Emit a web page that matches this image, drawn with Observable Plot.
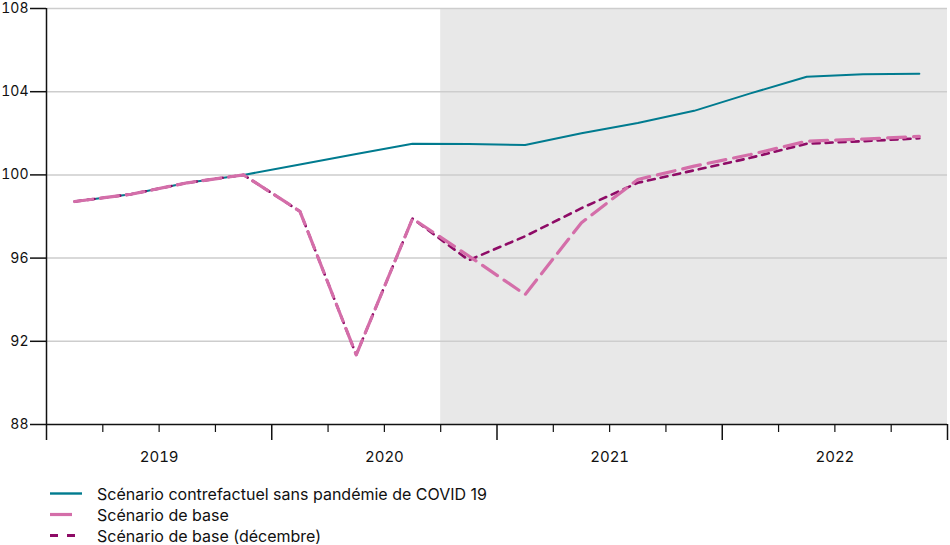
<!DOCTYPE html>
<html>
<head>
<meta charset="utf-8">
<script src="https://cdn.jsdelivr.net/npm/d3@7"></script>
<script src="https://cdn.jsdelivr.net/npm/@observablehq/plot@0.6"></script>
<style>
  html, body { margin: 0; padding: 0; background: #fff; }
  body { width: 950px; height: 545px; position: relative; font-family: Inter, "Liberation Sans", Arial, sans-serif; }
  #chart svg { display: block; }
  #legend { position: absolute; left: 50px; top: 483px; font-size: 16px; color: #111; }
  .row { display: flex; align-items: center; height: 21px; }
  .row svg { width: 47px; height: 21px; display: block; }
</style>
</head>
<body>
<div id="chart"></div>
<div id="legend"></div>
<script>
// ---- Data ----
const quarters = ["2019T1","2019T2","2019T3","2019T4","2020T1","2020T2","2020T3","2020T4",
                  "2021T1","2021T2","2021T3","2021T4","2022T1","2022T2","2022T3","2022T4"];
const counterfactual = [98.72, 99.07, 99.62, 100.0, 100.5, 101.0, 101.5, 101.48,
                        101.44, 102.0, 102.5, 103.08, 103.92, 104.72, 104.84, 104.86];
const base = [98.72, 99.07, 99.62, 100.0, 98.25, 91.35, 97.9, 96.1,
              94.25, 97.7, 99.78, 100.42, 100.98, 101.62, 101.72, 101.85];
const baseDec = [98.72, 99.07, 99.62, 100.0, 98.25, 91.35, 97.9, 95.9,
                 97.05, 98.4, 99.62, 100.22, 100.82, 101.5, 101.62, 101.76];
const years = ["2019","2020","2021","2022"];
const yTicks = [88, 92, 96, 100, 104, 108];
const forecastStart = "2020T4";
const seriesNames = ["Scénario contrefactuel sans pandémie de COVID 19", "Scénario de base", "Scénario de base (décembre)"];

// ---- Helpers ----
const qStart = q => +q.slice(0, 4) + (+q.slice(5) - 1) / 4;   // start of the quarter
const qMid = q => qStart(q) + 0.125;                             // centre of the quarter
const firstYear = +years[0], lastYear = +years[years.length - 1] + 1;
const majorTicks = d3.range(firstYear, lastYear + 1);
const minorTicks = d3.range(firstYear * 4, lastYear * 4 + 1).map(d => d / 4).filter(d => !Number.isInteger(d));
const yearMids = years.map(y => +y + 0.5);

const styles = [
  {stroke: "#007b8f", strokeWidth: 2, dash: null},
  {stroke: "#d46ea9", strokeWidth: 3.2, dash: "18,8"},
  {stroke: "#8e0b66", strokeWidth: 2.6, dash: "7,6"}
];

const rows = [];
[counterfactual, base, baseDec].forEach((vals, s) => {
  quarters.forEach((q, i) => rows.push({series: seriesNames[s], x: qMid(q), y: vals[i]}));
});
const lineOf = s => rows.filter(r => r.series === seriesNames[s]);

const plot = Plot.plot({
  width: 950,
  height: 472,
  marginLeft: 46,
  marginRight: 3,
  marginTop: 8,
  marginBottom: 48,
  style: {fontFamily: 'Inter, "Liberation Sans", Arial, sans-serif', fontSize: "15px", color: "#111", background: "transparent"},
  x: {domain: [firstYear, lastYear]},
  y: {domain: [yTicks[0], yTicks[yTicks.length - 1]]},
  marks: [
    Plot.rect([{x1: qStart(forecastStart), x2: lastYear}], {x1: "x1", x2: "x2", y1: yTicks[0], y2: yTicks[yTicks.length - 1], fill: "#e8e8e8"}),
    Plot.ruleY(yTicks.slice(1), {stroke: "#cdcdcd", strokeWidth: 1.5}),
    Plot.line(lineOf(0), {x: "x", y: "y", stroke: styles[0].stroke, strokeWidth: styles[0].strokeWidth}),
    Plot.line(lineOf(2), {x: "x", y: "y", stroke: styles[2].stroke, strokeWidth: styles[2].strokeWidth, strokeDasharray: styles[2].dash}),
    Plot.line(lineOf(1), {x: "x", y: "y", stroke: styles[1].stroke, strokeWidth: styles[1].strokeWidth, strokeDasharray: styles[1].dash}),
    Plot.ruleX([firstYear], {stroke: "#111", strokeWidth: 1.5}),
    Plot.ruleY([yTicks[0]], {stroke: "#111", strokeWidth: 1.5}),
    Plot.axisY({ticks: yTicks, tickSize: 16, tickPadding: 2, label: null, strokeWidth: 1.5, fontSize: 14}),
    Plot.axisX({ticks: majorTicks, tickSize: 16, tickFormat: () => "", label: null, strokeWidth: 1.5}),
    Plot.axisX({ticks: minorTicks, tickSize: 8, tickFormat: () => "", label: null, strokeWidth: 1.2}),
    Plot.axisX({ticks: yearMids, tickSize: 0, tickPadding: 27, tickFormat: d => years[yearMids.indexOf(d)], label: null, fontSize: 15})
  ]
});
document.getElementById("chart").appendChild(plot);

// ---- Legend ----
const legend = d3.select("#legend");
seriesNames.forEach((name, s) => {
  const row = legend.append("div").attr("class", "row");
  const svg = row.append("svg");
  const st = styles[s];
  const x2 = s === 0 ? 32 : (s === 1 ? 22 : 25);
  svg.append("line").attr("x1", 0).attr("x2", x2).attr("y1", 10.5).attr("y2", 10.5)
    .attr("stroke", st.stroke).attr("stroke-width", s === 0 ? 2.4 : 3.2)
    .attr("stroke-dasharray", s === 2 ? "8,9" : null);
  row.append("span").text(name);
});
</script>
</body>
</html>
